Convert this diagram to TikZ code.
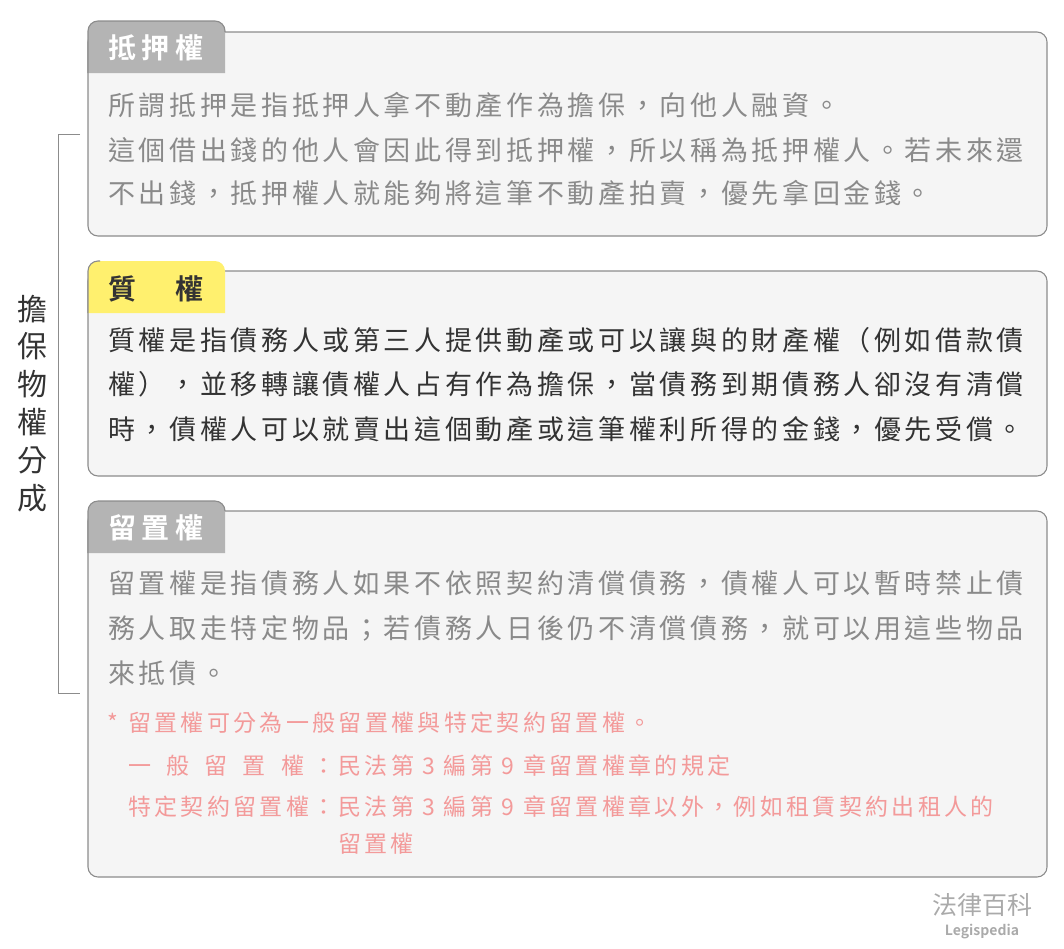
\documentclass[tikz,border=0pt]{standalone}
\usepackage{fontspec}
\setmainfont{Noto Sans CJK TC}
\newfontfamily\bodyf{Noto Sans CJK TC}[LetterSpace=13.5]
\newfontfamily\redf{Noto Sans CJK TC}[LetterSpace=14.5]
\newfontfamily\titlef{Noto Sans CJK TC Bold}[LetterSpace=20]
\newfontfamily\plainf{Noto Sans CJK TC}
\newfontfamily\boldf{Noto Sans CJK TC Bold}
\definecolor{boxfill}{HTML}{F5F5F5}
\definecolor{boxline}{HTML}{8C8C8C}
\definecolor{tabgray}{HTML}{B4B4B4}
\definecolor{tabyellow}{HTML}{FFF06E}
\definecolor{txtgray}{HTML}{8A8A8A}
\definecolor{txtdark}{HTML}{333333}
\definecolor{txtred}{HTML}{F39A9A}
\definecolor{logogray}{HTML}{AAAAAA}
\begin{document}
\begin{tikzpicture}[x=1pt,y=-1pt,
  mainbox/.style={draw=boxline,line width=1.1pt,fill=boxfill,rounded corners=10pt},
  tabedge/.style={draw=boxline,line width=1.1pt},
  titletxt/.style={anchor=base west,inner sep=0pt,font=\titlef\fontsize{28}{28}\selectfont},
  bodytxt/.style={anchor=base west,inner sep=0pt,font=\bodyf\fontsize{27}{27}\selectfont},
  redtxt/.style={anchor=base west,inner sep=0pt,text=txtred,font=\redf\fontsize{23}{23}\selectfont},
  bracket/.style={draw=boxline,line width=1pt}
]
\useasboundingbox (0,0) rectangle (1064,948);

% ---------- box 1 ----------
\path[mainbox] (88,32) rectangle (1047,236);
\fill[tabgray] (88,73) [rounded corners=10pt]-- (88,21) -- (225,21) [sharp corners]-- (225,73) -- cycle;
\draw[tabedge] (88,73) [rounded corners=10pt]-- (88,21) -- (225,21) [sharp corners]-- (225,32);
\node[titletxt,text=white] (t1) at (108,58) {抵押權};
\node[bodytxt,text=txtgray] (b1a) at (108,115) {所謂抵押是指抵押人拿不動產作為擔保，向他人融資。};
\node[bodytxt,text=txtgray] (b1b) at (108,160) {這個借出錢的他人會因此得到抵押權，所以稱為抵押權人。若未來還};
\node[bodytxt,text=txtgray] (b1c) at (108,203) {不出錢，抵押權人就能夠將這筆不動產拍賣，優先拿回金錢。};

% ---------- box 2 ----------
\path[mainbox] (88,271) rectangle (1047,476);
\fill[tabyellow] (88,313) [rounded corners=10pt]-- (88,261) -- (225,261) [sharp corners]-- (225,313) -- cycle;
\draw[tabedge] (88,313) [rounded corners=10pt]-- (88,261) -- (100,261);
\node[titletxt,text=txtdark] (t2) at (108,299) {質　權};
\node[bodytxt,text=txtdark] (b2a) at (108,350) {質權是指債務人或第三人提供動產或可以讓與的財產權（例如借款債};
\node[bodytxt,text=txtdark] (b2b) at (108,394) {權），並移轉讓債權人占有作為擔保，當債務到期債務人卻沒有清償};
\node[bodytxt,text=txtdark] (b2c) at (108,439) {時，債權人可以就賣出這個動產或這筆權利所得的金錢，優先受償。};

% ---------- box 3 ----------
\path[mainbox] (88,511) rectangle (1047,877);
\fill[tabgray] (88,553) [rounded corners=10pt]-- (88,501) -- (225,501) [sharp corners]-- (225,553) -- cycle;
\draw[tabedge] (88,553) [rounded corners=10pt]-- (88,501) -- (225,501) [sharp corners]-- (225,511);
\node[titletxt,text=white] (t3) at (108,538) {留置權};
\node[bodytxt,text=txtgray] (b3a) at (108,593) {留置權是指債務人如果不依照契約清償債務，債權人可以暫時禁止債};
\node[bodytxt,text=txtgray] (b3b) at (108,638) {務人取走特定物品；若債務人日後仍不清償債務，就可以用這些物品};
\node[bodytxt,text=txtgray] (b3c) at (108,683) {來抵債。};

\node[redtxt] (r0) at (107,731) {*};
\node[redtxt] (r1) at (128,731) {留置權可分為一般留置權與特定契約留置權。};
\node[redtxt] (r2) at (128,774) {\makebox[176pt][s]{一\hfill 般\hfill 留\hfill 置\hfill 權}};
\node[redtxt] (r2b) at (312,774) {：民法第 3 編第 9 章留置權章的規定};
\node[redtxt] (r3) at (128,815) {特定契約留置權};
\node[redtxt] (r3b) at (312,815) {：民法第 3 編第 9 章留置權章以外，例如租賃契約出租人的};
\node[redtxt] (r4) at (338,852) {留置權};

% ---------- left label and bracket ----------
\coordinate (brTop) at (80,134);
\coordinate (brBot) at (80,693);
\draw[bracket] (brTop) -- (58,134) -- (58,693) -- (brBot);
\foreach \ch [count=\i from 0] in {擔,保,物,權,分,成}{
  \node[anchor=base,inner sep=0pt,text=txtdark,font=\plainf\fontsize{30}{30}\selectfont] (v\i) at (32,{320+37.8*\i}) {\ch};
}

% ---------- logo ----------
\node[anchor=base,inner sep=0pt,text=logogray,font=\plainf\fontsize{25}{25}\selectfont] (logo) at (982,914) {法律百科};
\node[anchor=base,inner sep=0pt,text=logogray,font=\boldf\fontsize{14}{14}\selectfont] (logo2) at (982,935) {Legispedia};
\end{tikzpicture}
\end{document}
